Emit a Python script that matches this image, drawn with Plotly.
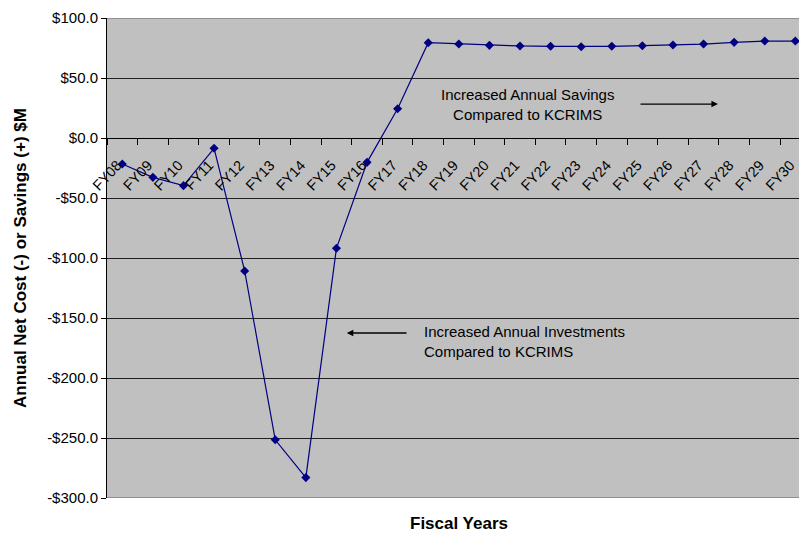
import plotly.graph_objects as go

categories = ["FY08", "FY09", "FY10", "FY11", "FY12", "FY13", "FY14", "FY15", "FY16", "FY17",
              "FY18", "FY19", "FY20", "FY21", "FY22", "FY23", "FY24", "FY25", "FY26", "FY27",
              "FY28", "FY29", "FY30"]
net_values = [-21.7, -32.8, -39.7, -8.6, -110.8, -251.5, -283.0, -91.9, -20.3, 24.4,
              79.4, 78.3, 77.2, 76.7, 76.4, 76.1, 76.4, 76.9, 77.5, 78.3,
              79.7, 80.8, 80.8]
y_tick_vals = [100, 50, 0, -50, -100, -150, -200, -250, -300]
y_tick_text = ["$100.0", "$50.0", "$0.0", "-$50.0", "-$100.0", "-$150.0", "-$200.0", "-$250.0", "-$300.0"]

FONT = "Arial, Liberation Sans, sans-serif"

fig = go.Figure()
fig.add_trace(go.Scatter(
    x=categories, y=net_values, mode="lines+markers",
    line=dict(color="#000080", width=1.2),
    marker=dict(symbol="diamond", size=7, color="#000080"),
    showlegend=False, hoverinfo="skip",
))

fig.update_layout(
    width=799, height=533,
    margin=dict(l=107, r=0, t=18, b=35),
    paper_bgcolor="white", plot_bgcolor="#C0C0C0",
    font=dict(family=FONT, color="black"),
    xaxis=dict(
        type="category", range=[-0.5, 22.12],
        anchor="free", position=0.75,
        showline=True, linecolor="black", linewidth=1,
        ticks="outside", tickson="boundaries", ticklen=6, tickcolor="black",
        tickangle=-47, tickfont=dict(size=14.5, family=FONT, color="black"),
        ticklabelstandoff=12, ticklabelshift=-5,
        showgrid=False, zeroline=False,
    ),
    yaxis=dict(
        range=[-300, 100], domain=[0, 1],
        tickvals=y_tick_vals, ticktext=y_tick_text,
        tickfont=dict(size=15, family=FONT, color="black"),
        showline=True, linecolor="black", linewidth=1,
        ticks="outside", ticklen=5, tickcolor="black",
        showgrid=True, gridcolor="#202020", gridwidth=1,
        zeroline=False,
    ),
)

# plot area border lines (gray) top and bottom
for yv in (100, -300):
    fig.add_shape(type="line", xref="paper", yref="y", x0=0, x1=1, y0=yv, y1=yv,
                  line=dict(color="#808080", width=1.5))

# axis titles
fig.add_annotation(text="<b>Annual Net Cost (-) or Savings (+) $M</b>", xref="paper", yref="paper",
                   x=0, y=0.5, xshift=-87, textangle=-90, showarrow=False,
                   xanchor="center", yanchor="middle", font=dict(size=17, family=FONT, color="black"))
fig.add_annotation(text="<b>Fiscal Years</b>", xref="paper", yref="paper",
                   x=0.509, y=-0.054, showarrow=False, xanchor="center", yanchor="middle",
                   font=dict(size=17, family=FONT, color="black"))

# text notes
fig.add_annotation(text="Increased Annual Savings<br>Compared to KCRIMS", xref="x", yref="y",
                   x=13.26, y=27.9, showarrow=False, align="center", xanchor="center", yanchor="middle",
                   font=dict(size=15, family=FONT, color="black"))
fig.add_annotation(text="", xref="x", yref="y", axref="x", ayref="y",
                   x=19.47, y=28.3, ax=16.89, ay=28.3, showarrow=True,
                   arrowhead=2, arrowsize=1, arrowwidth=1.3, arrowcolor="black")
fig.add_annotation(text="Increased Annual Investments<br>Compared to KCRIMS", xref="x", yref="y",
                   x=9.79, y=-169.2, showarrow=False, align="left", xanchor="left", yanchor="middle",
                   font=dict(size=15, family=FONT, color="black"))
fig.add_annotation(text="", xref="x", yref="y", axref="x", ayref="y",
                   x=7.34, y=-162.5, ax=9.34, ay=-162.5, showarrow=True,
                   arrowhead=2, arrowsize=1, arrowwidth=1.3, arrowcolor="black")

fig.write_html("out.html")
